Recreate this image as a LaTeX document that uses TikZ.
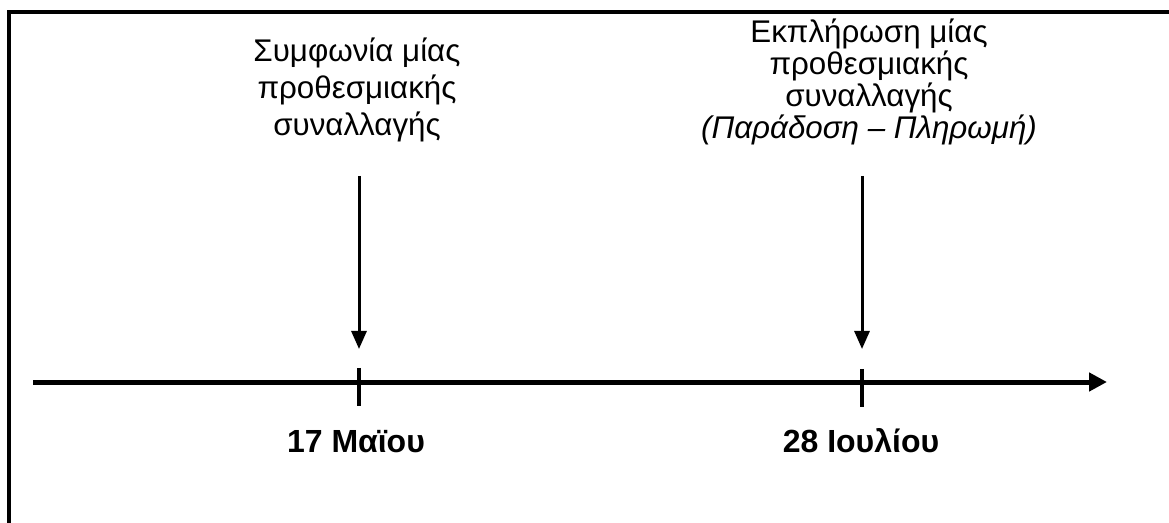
\documentclass[tikz,border=0pt]{standalone}
\usepackage{fontspec}
\setmainfont{Liberation Sans}
\usepackage{tikz}
\usetikzlibrary{arrows.meta}

\begin{document}
\begin{tikzpicture}[x=0.75pt, y=-0.75pt,
    frame/.style={line width=3pt},
    axis/.style={line width=3.75pt, -{Triangle[length=13.5pt, width=13.5pt]}},
    mark line/.style={line width=3.5pt},
    event/.style={line width=2.25pt, -{Triangle[length=13.5pt, width=11.25pt]}},
    eventtext/.style={align=center, inner sep=0pt, anchor=north},
    datelabel/.style={font=\fontsize{24}{28}\selectfont\bfseries, inner sep=0pt, anchor=base}]
    \useasboundingbox (0,0) rectangle (1169,523);
    \draw[frame] (9,523) -- (9,12) -- (1171,12);
    % time axis
    \coordinate (start) at (33,382);
    \coordinate (finish) at (1107,382);
    \draw[axis] (start) -- (finish);
    \coordinate (agree) at (359,382);
    \coordinate (settle) at (862,382);
    \draw[mark line] (agree) ++(0,-14) -- ++(0,38);
    \draw[mark line] (settle) ++(0,-13) -- ++(0,38);
    \node[datelabel] (agreedate) at (356,452) {17 Μαϊου};
    \node[datelabel] (settledate) at (861,452) {28 Ιουλίου};
    % events
    \node[eventtext, font=\fontsize{23.5}{27.5}\selectfont] (agreetxt) at (357,38)
        {Συμφωνία μίας\\προθεσμιακής\\συναλλαγής};
    \node[eventtext, font=\fontsize{23.5}{24}\selectfont] (settletxt) at (869,19)
        {Εκπλήρωση μίας\\προθεσμιακής\\συναλλαγής\\{\itshape (Παράδοση – Πληρωμή)}};
    \coordinate (agreetop) at (359,176);
    \coordinate (agreetip) at (359,349);
    \coordinate (settletop) at (862,176);
    \coordinate (settletip) at (862,349);
    \draw[event] (agreetop) -- (agreetip);
    \draw[event] (settletop) -- (settletip);
\end{tikzpicture}
\end{document}
